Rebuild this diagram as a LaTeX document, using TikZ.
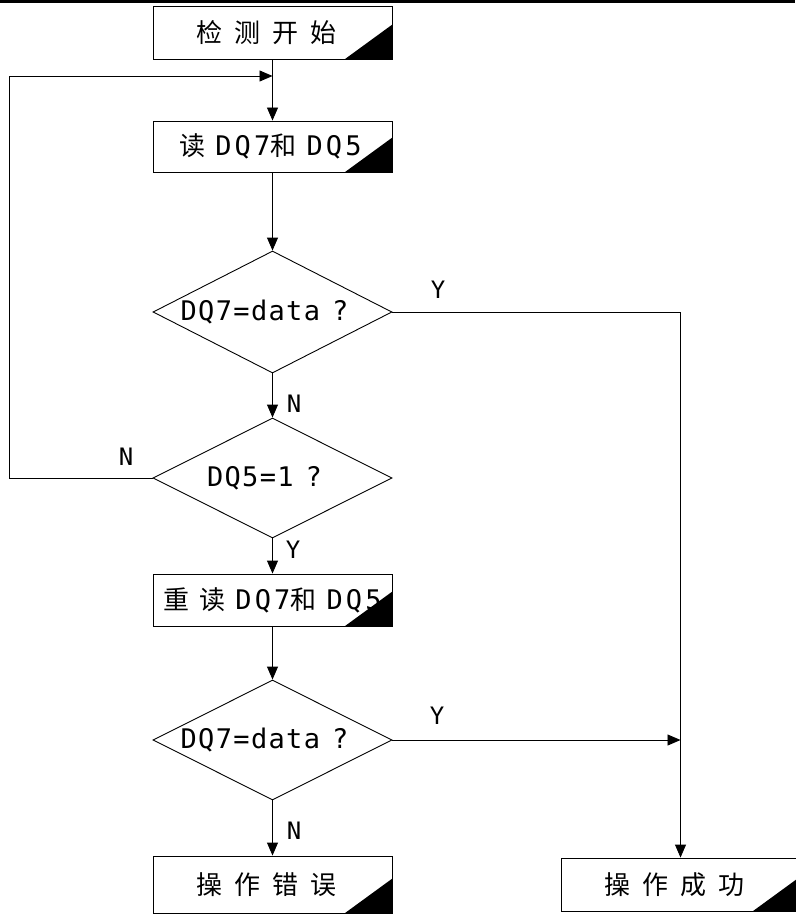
\documentclass[tikz,border=0pt]{standalone}
\usepackage{fontspec}
\usetikzlibrary{shapes.geometric,arrows.meta}
\newfontfamily\cjk{Noto Sans CJK SC}
\newfontfamily\latA[LetterSpace=12]{DejaVu Sans Mono}
\newfontfamily\latB[LetterSpace=5]{DejaVu Sans Mono}
\newcommand\mylat[1]{{\latA\fontsize{27}{27}\selectfont #1}}
\newcommand\gap{\hspace{12pt}}
\begin{document}
\begin{tikzpicture}[x=1pt,y=-1pt,
  box/.style={draw, line width=0.9pt, minimum width=239pt, minimum height=53pt, inner sep=0pt, font=\cjk\fontsize{26}{26}\selectfont},
  dia/.style={draw, diamond, line width=0.9pt, minimum width=239pt, minimum height=122pt, inner sep=0pt},
  dtext/.style={font=\latB\fontsize{27}{27}\selectfont, inner sep=0pt},
  lab/.style={font=\latB\fontsize{24}{24}\selectfont, inner sep=0pt},
  conn/.style={line width=0.9pt},
  arr/.style={conn, -{Triangle[length=13pt,width=11pt]}},
  corner/.style={fill=black}
]
\useasboundingbox (0,0) rectangle (795,915);
\fill (0,0) rectangle (795,3);

\node[box] (b1) at (272.5,32.5) {检\gap 测\gap 开\gap 始\hspace*{12pt}};
\node[box, minimum height=51pt] (b2) at (272.5,146.5) {读\hspace{10pt}\mylat{DQ7}和\hspace{10pt}\mylat{DQ5}\hspace*{4pt}};
\node[dia] (d1) at (272.5,312) {};
\node[dtext] at ([xshift=-8pt]d1.center) {DQ7=data\hspace{12pt}?};
\node[dia, minimum height=120pt] (d2) at (272.5,478) {};
\node[dtext] at ([xshift=-8pt]d2.center) {DQ5=1\hspace{12pt}?};
\node[box, minimum height=52pt] (b3) at (272.5,600) {重\hspace{10pt}读\hspace{10pt}\mylat{DQ7}和\hspace{10pt}\mylat{DQ5}};
\node[dia, minimum height=120pt] (d3) at (272.5,740) {};
\node[dtext] at ([xshift=-8pt]d3.center) {DQ7=data\hspace{12pt}?};
\node[box, minimum height=57pt] (b4) at (272.5,884.5) {操\gap 作\gap 错\gap 误\hspace*{12pt}};
\node[box] (b5) at (680.5,884.5) {操\gap 作\gap 成\gap 功\hspace*{12pt}};

\foreach \b in {b1,b2,b3,b4,b5}
  \fill[corner] (\b.south east) -- ++(-48,0) -- ++(48,-35) -- cycle;

\coordinate (m1) at (272.5,76);
\coordinate (m2) at (680.5,740);
\coordinate (c1) at (9,478);
\coordinate (c2) at (9,76);
\coordinate (c3) at (680.5,312);

\draw[conn] (b1.south) -- (m1);
\draw[arr] (m1) -- (b2.north);
\draw[arr] (b2.south) -- (d1.north);
\draw[arr] (d1.south) -- (d2.north);
\draw[arr] (d2.west) -- (c1) -- (c2) -- (m1);
\draw[arr] (d2.south) -- (b3.north);
\draw[arr] (b3.south) -- (d3.north);
\draw[arr] (d3.south) -- (b4.north);
\draw[arr] (d1.east) -- (c3) -- (b5.north);
\draw[arr] (d3.east) -- (m2);

\node[lab] (y1) at (438,290) {Y};
\node[lab] (n1) at (294,404) {N};
\node[lab] (n2) at (126,457) {N};
\node[lab] (y2) at (293,550) {Y};
\node[lab] (y3) at (437,716) {Y};
\node[lab] (n3) at (294,831) {N};
\end{tikzpicture}
\end{document}
